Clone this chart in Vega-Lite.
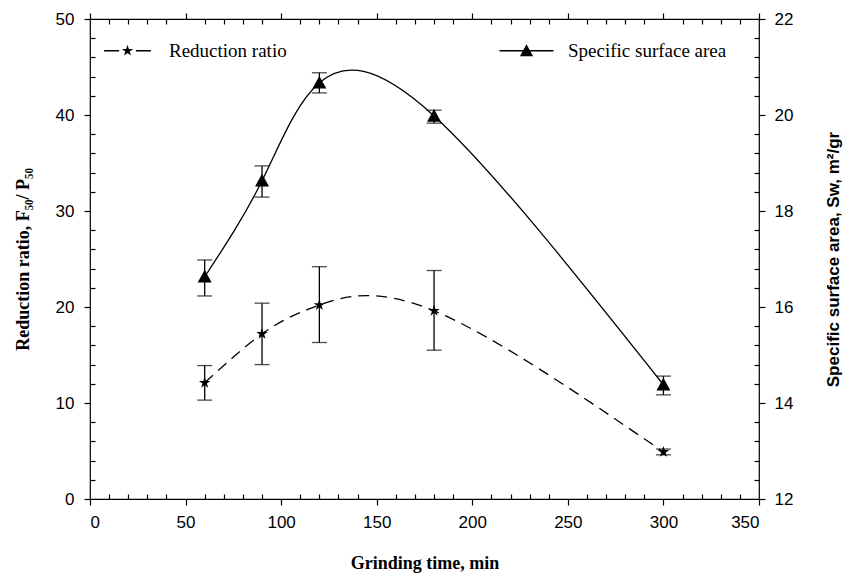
{
  "$schema": "https://vega.github.io/schema/vega-lite/v6.json",
  "width": 669,
  "height": 480,
  "autosize": {"type": "none"},
  "padding": {"left": 90, "top": 19, "right": 95, "bottom": 78},
  "background": "white",
  "config": {
    "view": {"stroke": "black", "strokeWidth": 1.2},
    "axis": {
      "labelFont": "Liberation Sans",
      "labelFontSize": 17,
      "labelColor": "black",
      "titleFont": "Liberation Serif",
      "titleFontSize": 18,
      "titleFontWeight": "bold",
      "titleColor": "black",
      "tickColor": "black",
      "tickWidth": 1.2,
      "domain": false,
      "grid": false
    }
  },
  "datasets": {
    "red": [
      {"t": 60, "v": 12.1, "lo": 10.3, "hi": 13.9},
      {"t": 90, "v": 17.2, "lo": 14.0, "hi": 20.4},
      {"t": 120, "v": 20.2, "lo": 16.3, "hi": 24.2},
      {"t": 180, "v": 19.6, "lo": 15.5, "hi": 23.8},
      {"t": 300, "v": 4.9, "lo": 4.6, "hi": 5.2}
    ],
    "ssa": [
      {"t": 60, "v": 16.63, "lo": 16.23, "hi": 16.98},
      {"t": 90, "v": 18.63, "lo": 18.29, "hi": 18.94},
      {"t": 120, "v": 20.67, "lo": 20.46, "hi": 20.88},
      {"t": 180, "v": 19.98, "lo": 19.83, "hi": 20.10},
      {"t": 300, "v": 14.38, "lo": 14.17, "hi": 14.56}
    ],
    "series": [
      {"series": "Reduction ratio"},
      {"series": "Specific surface area"}
    ]
  },
  "layer": [
    {
      "data": {"name": "red"},
      "mark": {"type": "line", "interpolate": "natural", "color": "black", "strokeWidth": 1.3, "strokeDash": [11, 7]},
      "encoding": {
        "x": {"field": "t", "type": "quantitative", "scale": {"domain": [0, 350], "nice": false, "zero": false},
          "axis": {"orient": "bottom", "values": [0, 50, 100, 150, 200, 250, 300, 350], "tickSize": 6, "labelPadding": 9, "title": "Grinding time, min", "titlePadding": 24}},
        "y": {"field": "v", "type": "quantitative", "scale": {"domain": [0, 50], "nice": false, "zero": false},
          "axis": {"orient": "left", "values": [0, 10, 20, 30, 40, 50], "tickSize": 6, "labelPadding": 10, "title": "Reduction ratio, F₅₀/ P₅₀", "titlePadding": 23}}
      }
    },
    {
      "data": {"name": "red"},
      "mark": {"type": "rule", "color": "black", "strokeWidth": 1.3},
      "encoding": {
        "x": {"field": "t", "type": "quantitative", "scale": {"domain": [0, 350], "nice": false, "zero": false},
          "axis": {"orient": "bottom", "values": [10, 20, 30, 40, 60, 70, 80, 90, 110, 120, 130, 140, 160, 170, 180, 190, 210, 220, 230, 240, 260, 270, 280, 290, 310, 320, 330, 340], "tickSize": -5, "labels": false, "title": null}},
        "y": {"field": "lo", "type": "quantitative", "scale": {"domain": [0, 50], "nice": false, "zero": false},
          "axis": {"orient": "left", "values": [2, 4, 6, 8, 12, 14, 16, 18, 22, 24, 26, 28, 32, 34, 36, 38, 42, 44, 46, 48], "tickSize": -5, "labels": false, "title": null}},
        "y2": {"field": "hi"}
      }
    },
    {
      "data": {"name": "red"},
      "mark": {"type": "tick", "orient": "horizontal", "color": "black", "size": 15, "thickness": 1.3},
      "encoding": {
        "x": {"field": "t", "type": "quantitative", "scale": {"domain": [0, 350], "nice": false, "zero": false},
          "axis": {"orient": "top", "values": [0, 50, 100, 150, 200, 250, 300, 350], "tickSize": 6, "labels": false, "title": null}},
        "y": {"field": "lo", "type": "quantitative", "scale": {"domain": [0, 50], "nice": false, "zero": false},
          "axis": {"orient": "right", "values": [2, 4, 6, 8, 12, 14, 16, 18, 22, 24, 26, 28, 32, 34, 36, 38, 42, 44, 46, 48], "tickSize": -5, "labels": false, "title": null}}
      }
    },
    {
      "data": {"name": "red"},
      "mark": {"type": "tick", "orient": "horizontal", "color": "black", "size": 15, "thickness": 1.3},
      "encoding": {
        "x": {"field": "t", "type": "quantitative", "scale": {"domain": [0, 350], "nice": false, "zero": false},
          "axis": {"orient": "top", "values": [10, 20, 30, 40, 60, 70, 80, 90, 110, 120, 130, 140, 160, 170, 180, 190, 210, 220, 230, 240, 260, 270, 280, 290, 310, 320, 330, 340], "tickSize": -5, "labels": false, "title": null}},
        "y": {"field": "hi", "type": "quantitative", "scale": {"domain": [0, 50], "nice": false, "zero": false}, "axis": null}
      }
    },
    {
      "data": {"name": "red"},
      "mark": {"type": "point", "filled": true, "color": "black", "opacity": 1, "size": 144, "shape": "M0,-1L0.223,-0.307L0.951,-0.309L0.361,0.117L0.588,0.809L0,0.38L-0.588,0.809L-0.361,0.117L-0.951,-0.309L-0.223,-0.307Z"},
      "encoding": {
        "x": {"field": "t", "type": "quantitative", "scale": {"domain": [0, 350], "nice": false, "zero": false}, "axis": null},
        "y": {"field": "v", "type": "quantitative", "scale": {"domain": [0, 50], "nice": false, "zero": false}, "axis": null}
      }
    },
    {
      "data": {"name": "ssa"},
      "mark": {"type": "line", "interpolate": "natural", "color": "black", "strokeWidth": 1.3},
      "encoding": {
        "x": {"field": "t", "type": "quantitative", "scale": {"domain": [0, 350], "nice": false, "zero": false}, "axis": null},
        "y": {"field": "v", "type": "quantitative", "scale": {"domain": [12, 22], "nice": false, "zero": false},
          "axis": {"orient": "right", "values": [12, 14, 16, 18, 20, 22], "tickSize": 6, "labelPadding": 9, "title": "Specific surface area, Sw, m²/gr", "titleFont": "Liberation Sans", "titleFontSize": 17, "titleAngle": 270, "titleBaseline": "top", "titlePadding": 33}}
      }
    },
    {
      "data": {"name": "ssa"},
      "mark": {"type": "rule", "color": "black", "strokeWidth": 1.3},
      "encoding": {
        "x": {"field": "t", "type": "quantitative", "scale": {"domain": [0, 350], "nice": false, "zero": false}, "axis": null},
        "y": {"field": "lo", "type": "quantitative", "scale": {"domain": [12, 22], "nice": false, "zero": false}, "axis": null},
        "y2": {"field": "hi"}
      }
    },
    {
      "data": {"name": "ssa"},
      "mark": {"type": "tick", "orient": "horizontal", "color": "black", "size": 15, "thickness": 1.3},
      "encoding": {
        "x": {"field": "t", "type": "quantitative", "scale": {"domain": [0, 350], "nice": false, "zero": false}, "axis": null},
        "y": {"field": "lo", "type": "quantitative", "scale": {"domain": [12, 22], "nice": false, "zero": false}, "axis": null}
      }
    },
    {
      "data": {"name": "ssa"},
      "mark": {"type": "tick", "orient": "horizontal", "color": "black", "size": 15, "thickness": 1.3},
      "encoding": {
        "x": {"field": "t", "type": "quantitative", "scale": {"domain": [0, 350], "nice": false, "zero": false}, "axis": null},
        "y": {"field": "hi", "type": "quantitative", "scale": {"domain": [12, 22], "nice": false, "zero": false}, "axis": null}
      }
    },
    {
      "data": {"name": "ssa"},
      "mark": {"type": "point", "filled": true, "color": "black", "opacity": 1, "size": 160, "shape": "M0,-1.1L1.1,0.9L-1.1,0.9Z"},
      "encoding": {
        "x": {"field": "t", "type": "quantitative", "scale": {"domain": [0, 350], "nice": false, "zero": false}, "axis": null},
        "y": {"field": "v", "type": "quantitative", "scale": {"domain": [12, 22], "nice": false, "zero": false}, "axis": null}
      }
    },
    {
      "data": {"name": "series"},
      "mark": {"type": "point", "filled": true, "fill": "black", "size": 0},
      "encoding": {
        "shape": {"field": "series", "type": "nominal",
          "scale": {"domain": ["Reduction ratio", "Specific surface area"], "range": ["M-3.9,-0.11L-1.4,-0.11L-1.4,0.11L-3.9,0.11ZM1.4,-0.11L3.9,-0.11L3.9,0.11L1.4,0.11ZM0,-1L0.223,-0.307L0.951,-0.309L0.361,0.117L0.588,0.809L0,0.38L-0.588,0.809L-0.361,0.117L-0.951,-0.309L-0.223,-0.307Z", "M-4.5,-0.11L4.5,-0.11L4.5,0.11L-4.5,0.11ZM0,-1.1L1.1,0.9L-1.1,0.9Z"]},
          "legend": {
            "title": null, "orient": "none", "direction": "horizontal", "legendX": 28, "legendY": 22,
            "symbolSize": 144, "symbolFillColor": "black", "symbolOpacity": 1,
            "labelFont": "Liberation Serif", "labelFontSize": 19, "labelColor": "black", "labelOffset": 32, "columnPadding": 209
          }}
      }
    }
  ],
  "resolve": {"scale": {"y": "independent"}, "axis": {"x": "independent", "y": "independent"}}
}
